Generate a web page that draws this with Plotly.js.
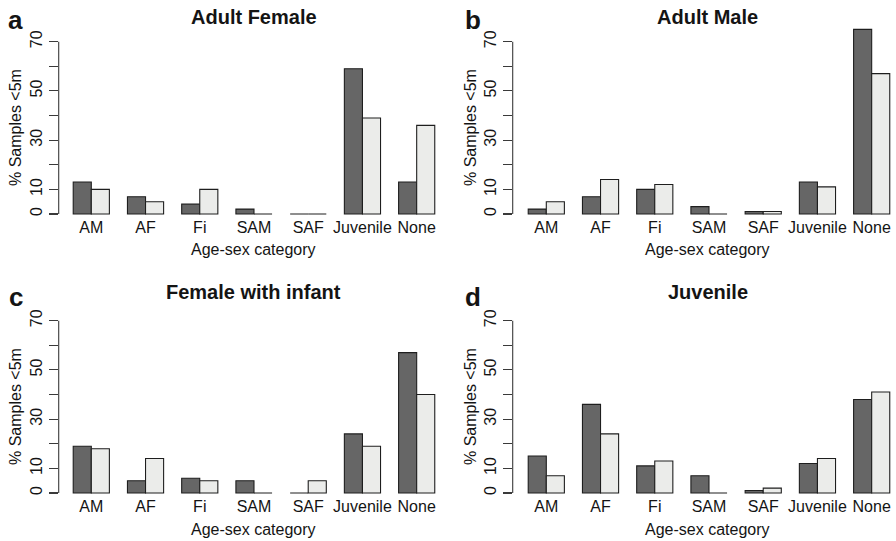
<!DOCTYPE html>
<html>
<head>
<meta charset="utf-8">
<script src="https://cdn.plot.ly/plotly-3.0.1.min.js"></script>
<style>
  html, body { margin: 0; padding: 0; background: #ffffff; }
  #chart { width: 896px; height: 541px; }
</style>
</head>
<body>
<div id="chart"></div>
<script>
// Age-sex categories of the nearest neighbour
const categories = ['AM', 'AF', 'Fi', 'SAM', 'SAF', 'Juvenile', 'None'];

// % samples with a neighbour within 5 m (dark and light bar of each pair)
const adultFemaleDark  = [13, 7, 4, 2, 0, 59, 13];
const adultFemaleLight = [10, 5, 10, 0, 0, 39, 36];

const adultMaleDark  = [2, 7, 10, 3, 1, 13, 75];
const adultMaleLight = [5, 14, 12, 0, 1, 11, 57];

const femaleInfantDark  = [19, 5, 6, 5, 0, 24, 57];
const femaleInfantLight = [18, 14, 5, 0, 5, 19, 40];

const juvenileDark  = [15, 36, 11, 7, 1, 12, 38];
const juvenileLight = [7, 24, 13, 0, 2, 14, 41];

const panelTitles  = ['Adult Female', 'Adult Male', 'Female with infant', 'Juvenile'];
const panelLetters = ['a', 'b', 'c', 'd'];

const yTickVals = [0, 10, 20, 30, 40, 50, 60, 70];
const yTickText = ['0', '10', '', '30', '', '50', '', '70'];

const yTitle = '% Samples <5m';
const xTitle = 'Age-sex category';

const FONT = '"Liberation Sans", Arial, Helvetica, sans-serif';
const INK = '#141414';
const AXIS = '#3a3a3a';
const DARK = '#666666';
const LIGHT = '#ebecea';
const EDGE = '#1e1e1e';
const TXT = 16;

const W = 896, H = 541;

// pixel geometry of each panel (left/right column, top/bottom row)
const colLeftPx  = [58.7, 512.7];
const colRightPx = [449.2, 896];
const catPx = 54.23;        // width of one category band
const firstCatPx = [91.3, 546.3];
const zeroPx = [214, 493];  // y pixel of value 0
const unitPx = 2.462;       // px per percentage point
const yLow = -0.8, yHigh = 76.5;

const panels = [
  {dark: adultFemaleDark,  light: adultFemaleLight,  col: 0, row: 0},
  {dark: adultMaleDark,    light: adultMaleLight,    col: 1, row: 0},
  {dark: femaleInfantDark, light: femaleInfantLight, col: 0, row: 1},
  {dark: juvenileDark,     light: juvenileLight,     col: 1, row: 1}
];

const data = [];
const layout = {
  width: W, height: H,
  margin: {l: 0, r: 0, t: 0, b: 0},
  paper_bgcolor: '#ffffff',
  plot_bgcolor: 'rgba(0,0,0,0)',
  showlegend: false,
  barmode: 'group',
  bargap: 1 / 3,
  bargroupgap: 0,
  font: {family: FONT, color: INK, size: TXT},
  annotations: [],
  shapes: []
};

panels.forEach((p, i) => {
  const n = i + 1;
  const xa = n === 1 ? 'x' : 'x' + n;
  const ya = n === 1 ? 'y' : 'y' + n;
  const xKey = n === 1 ? 'xaxis' : 'xaxis' + n;
  const yKey = n === 1 ? 'yaxis' : 'yaxis' + n;

  const left = colLeftPx[p.col], right = colRightPx[p.col];
  const z = zeroPx[p.row];
  const botPx = z - yLow * unitPx;
  const topPx = z - yHigh * unitPx;

  const rLeft = -(firstCatPx[p.col] - left) / catPx;
  const rRight = (right - firstCatPx[p.col]) / catPx;

  [[p.dark, DARK], [p.light, LIGHT]].forEach(([vals, col]) => {
    data.push({
      type: 'bar',
      x: categories,
      y: vals,
      xaxis: xa, yaxis: ya,
      marker: {color: col, line: {color: EDGE, width: 1.1}},
      hoverinfo: 'skip',
      cliponaxis: false
    });
  });

  layout[xKey] = {
    domain: [left / W, right / W],
    anchor: ya,
    type: 'category',
    categoryorder: 'array',
    categoryarray: categories,
    range: [rLeft, rRight],
    showline: false, showgrid: false, zeroline: false,
    ticks: '',
    tickfont: {family: FONT, size: TXT, color: INK},
    fixedrange: true
  };
  layout[yKey] = {
    domain: [(H - botPx) / H, (H - topPx) / H],
    anchor: xa,
    range: [yLow, yHigh],
    showline: false, showgrid: false, zeroline: false,
    tickmode: 'array',
    tickvals: yTickVals,
    ticktext: yTickText,
    tickangle: -90,
    ticks: 'outside',
    ticklen: 9,
    tickwidth: 1.1,
    tickcolor: AXIS,
    tickfont: {family: FONT, size: TXT, color: INK},
    fixedrange: true
  };

  // y axis line spanning the labelled tick range only
  layout.shapes.push({
    type: 'line', xref: xa + ' domain', yref: ya,
    x0: 0, x1: 0, y0: 0, y1: 70,
    line: {color: AXIS, width: 1.1}
  });

  const cx = (left + (p.col === 0 ? 449.2 : 903.2)) / 2;
  const titleY = [17, 292][p.row];
  const letterY = [20, 297][p.row];
  const xTitleY = zeroPx[p.row] + 36;
  const yTitleX = [15, 470][p.col];
  const yTitleY = zeroPx[p.row] - 86;

  layout.annotations.push(
    {
      text: '<b>' + panelTitles[i] + '</b>',
      xref: 'paper', yref: 'paper',
      x: cx / W, y: (H - titleY) / H,
      xanchor: 'center', yanchor: 'middle',
      showarrow: false,
      font: {family: FONT, size: 20, color: INK}
    },
    {
      text: '<b>' + panelLetters[i] + '</b>',
      xref: 'paper', yref: 'paper',
      x: [15.5, 472.5][p.col] / W, y: (H - letterY) / H,
      xanchor: 'center', yanchor: 'middle',
      showarrow: false,
      font: {family: FONT, size: 26, color: INK}
    },
    {
      text: xTitle,
      xref: 'paper', yref: 'paper',
      x: cx / W, y: (H - xTitleY) / H,
      xanchor: 'center', yanchor: 'middle',
      showarrow: false,
      font: {family: FONT, size: TXT, color: INK}
    },
    {
      text: yTitle,
      xref: 'paper', yref: 'paper',
      x: yTitleX / W, y: (H - yTitleY) / H,
      xanchor: 'center', yanchor: 'middle',
      textangle: -90,
      showarrow: false,
      font: {family: FONT, size: TXT, color: INK}
    }
  );
});

Plotly.newPlot('chart', data, layout, {staticPlot: true, displayModeBar: false});
</script>
</body>
</html>
